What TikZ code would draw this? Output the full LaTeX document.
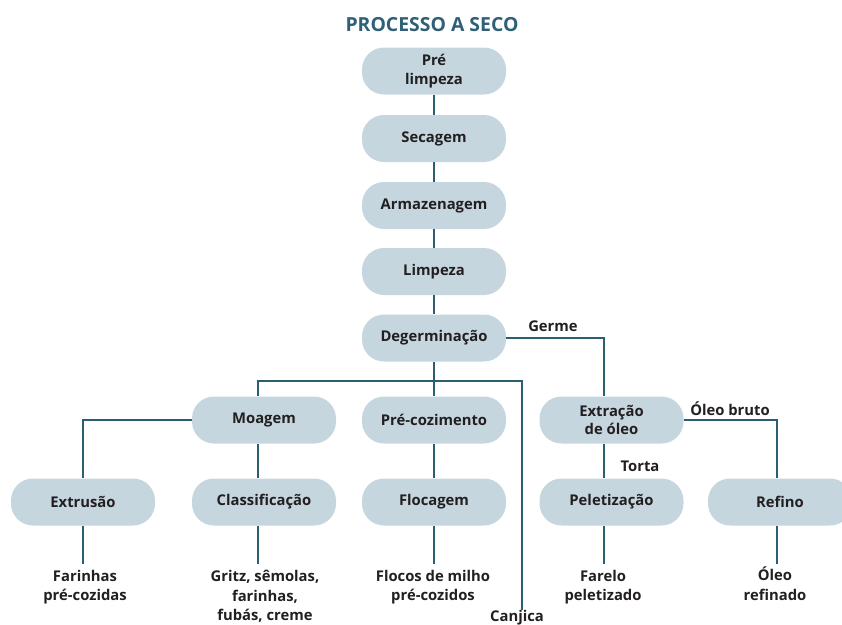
\documentclass[tikz,border=0pt]{standalone}
\usepackage{fontspec}
\setmainfont{Open Sans}
\definecolor{boxfill}{HTML}{C6D6DF}
\definecolor{linec}{HTML}{2B5E72}
\definecolor{txt}{HTML}{231F20}
\definecolor{titlec}{HTML}{2F6076}
\begin{document}
\begin{tikzpicture}[x=1pt,y=-1pt,
  box/.style={fill=boxfill,rounded corners=22pt,minimum width=144pt,minimum height=47pt,inner sep=0pt,align=center,font=\bfseries\fontsize{14.8}{18.5}\selectfont,text=txt},
  conn/.style={draw=linec,line width=1.8pt},
  lbl/.style={font=\bfseries\fontsize{14.8}{19.5}\selectfont,text=txt,align=center,inner sep=0pt}]
\useasboundingbox (0,0) rectangle (842,624);
\node[font=\bfseries\fontsize{19.4}{22}\selectfont,text=titlec,inner sep=0pt] (title) at (432,25) {PROCESSO A SECO};
% main column
\node[box] (pre) at (434,71) {Pré\\limpeza};
\node[box] (sec) at (434,138.5) {Secagem};
\node[box] (arm) at (434,205.5) {Armazenagem};
\node[box] (limp) at (434,271.5) {Limpeza};
\node[box] (deg) at (434,338) {Degerminação};
% row 2
\node[box] (moag) at (264,420) {Moagem};
\node[box] (prec) at (434,420) {Pré-cozimento};
\node[box] (ext) at (611.5,420) {Extração\\de óleo};
% row 3
\node[box] (extr) at (83,502) {Extrusão};
\node[box] (clas) at (264,502) {Classificação};
\node[box] (floc) at (434,502) {Flocagem};
\node[box] (pel) at (611.5,502) {Peletização};
\node[box] (ref) at (780,502) {Refino};
% outputs
\node[lbl,anchor=north] (o1) at (85,570) {Farinhas\\pré-cozidas};
\node[lbl,anchor=north] (o2) at (265,570) {Gritz, sêmolas,\\farinhas,\\fubás, creme};
\node[lbl,anchor=north] (o3) at (433,570) {Flocos de milho\\pré-cozidos};
\node[lbl,anchor=north] (o4) at (603,570) {Farelo\\peletizado};
\node[lbl,anchor=north] (o5) at (775,567) {Óleo\\refinado};
\node[lbl,anchor=north] (canj) at (517,610) {Canjica};
% edge labels
\node[lbl] (lg) at (553,326) {Germe};
\node[lbl] (lt) at (640,466) {Torta};
\node[lbl] (lo) at (730,409) {Óleo bruto};
% junction coordinates
\coordinate (jL) at (258,381);
\coordinate (jR) at (522,381);
\coordinate (gx) at (604,0);
\coordinate (rx) at (777,0);
% connectors
\draw[conn] (pre.south) -- (sec.north);
\draw[conn] (sec.south) -- (arm.north);
\draw[conn] (arm.south) -- (limp.north);
\draw[conn] (limp.south) -- (deg.north);
\draw[conn] (deg.south) -- (prec.north);
\draw[conn] (jL |- moag.north) -- (jL) -- (jR) -- (jR |- canj.north);
\draw[conn] (deg.east) -| (gx |- ext.north);
\draw[conn] (moag.west) -| (extr.north);
\draw[conn] (jL |- moag.south) -- (jL |- clas.north);
\draw[conn] (prec.south) -- (floc.north);
\draw[conn] (gx |- ext.south) -- (gx |- pel.north);
\draw[conn] (ext.east) -| (rx |- ref.north);
% outputs connectors
\draw[conn,shorten >=6pt] (extr.south) -- (extr.south |- o1.north);
\draw[conn,shorten >=6pt] (jL |- clas.south) -- (jL |- o2.north);
\draw[conn,shorten >=6pt] (floc.south) -- (floc.south |- o3.north);
\draw[conn,shorten >=6pt] (gx |- pel.south) -- (gx |- o4.north);
\draw[conn,shorten >=3pt] (rx |- ref.south) -- (rx |- o5.north);
\end{tikzpicture}
\end{document}
